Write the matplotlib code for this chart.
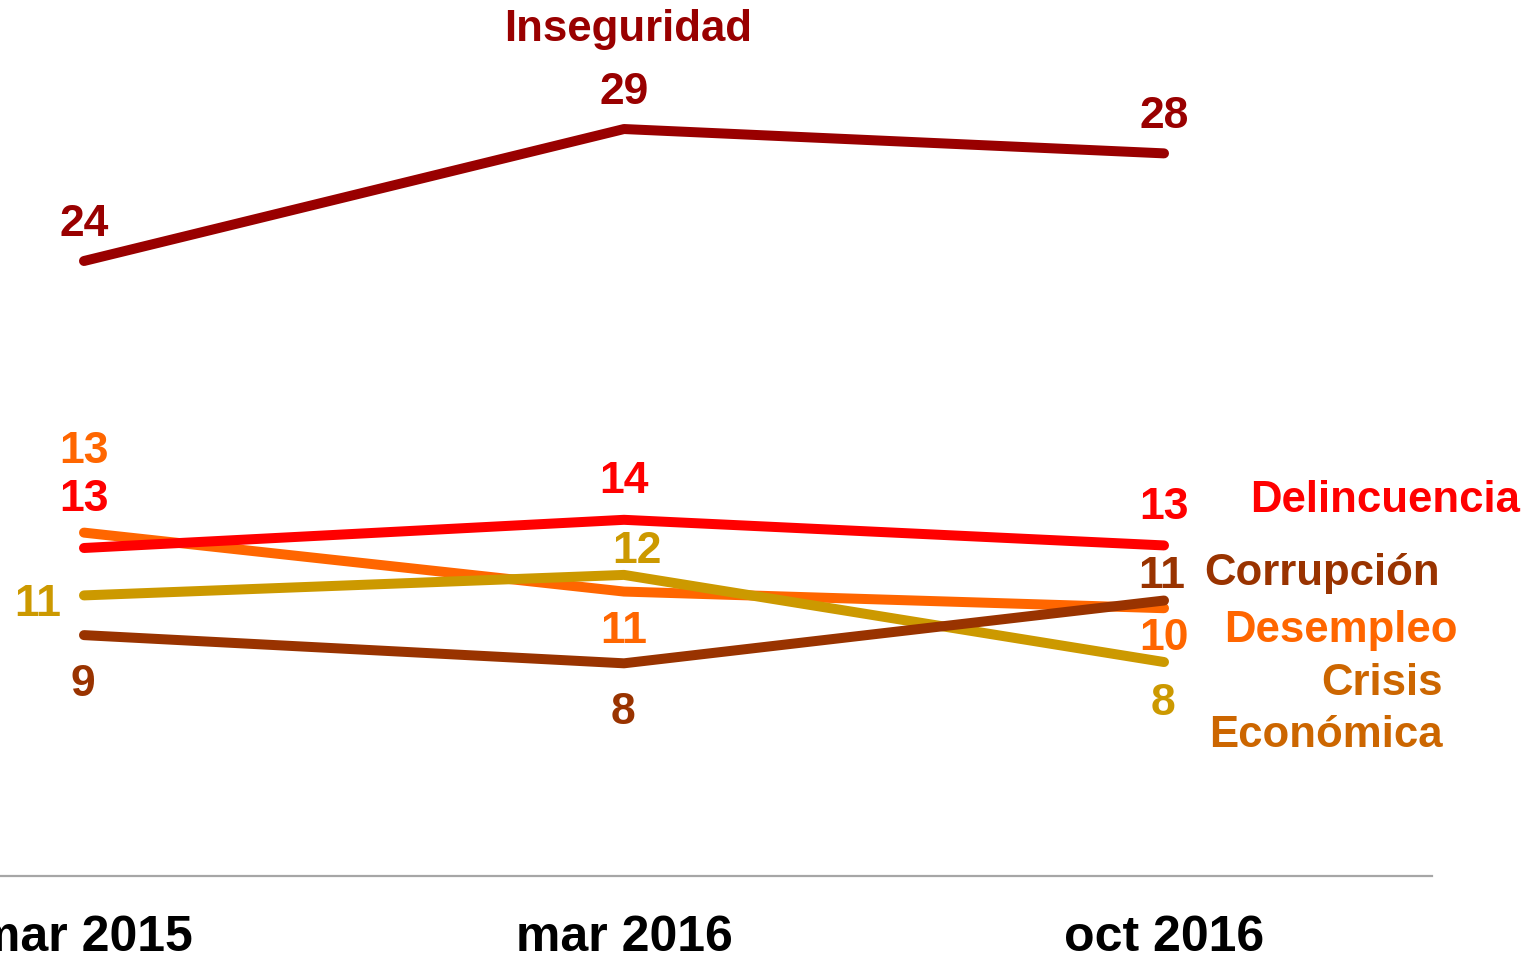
import matplotlib.pyplot as plt

plt.rcParams["font.family"] = ["Liberation Sans", "DejaVu Sans"]
plt.rcParams["font.weight"] = "bold"

# survey waves
periods = ["mar 2015", "mar 2016", "oct 2016"]

# share of mentions (%)
desempleo = [13.4, 11.1, 10.45]
crisis = [10.95, 11.75, 8.35]
corrupcion = [9.4, 8.3, 10.75]
delincuencia = [12.8, 13.9, 12.9]
inseguridad = [24.0, 29.15, 28.2]

# drawing order: bottom to top
series = [
    ("Desempleo", desempleo, "#ff6600"),
    ("Crisis Económica", crisis, "#cc9900"),
    ("Corrupción", corrupcion, "#993300"),
    ("Delincuencia", delincuencia, "#ff0000"),
    ("Inseguridad", inseguridad, "#990000"),
]

# value label offsets in pixels (dx, dy to baseline)
label_offsets = {
    "Desempleo": [(0, 70), (0, -51), (0, -42)],
    "Crisis Económica": [(-46, -21), (13, 12), (-1, -53)],
    "Corrupción": [(-1, -61), (-1, -61), (-2, 13)],
    "Delincuencia": [(0, 37), (0, 27), (0, 26)],
    "Inseguridad": [(0, 25), (0, 25), (0, 25)],
}

W, H = 1528, 955
fig = plt.figure(figsize=(W / 100, H / 100), dpi=100)
ax = fig.add_axes([0, 0, 1, 1])
ax.axis("off")

# 540 px between waves, first wave at x=84 px; 25.625 px per point, zero at y=876 px
px_x, px_y = 540, 25.625
ax.set_xlim(-84 / px_x, (W - 84) / px_x)
ax.set_ylim(-(H - 876) / px_y, 876 / px_y)

x = list(range(len(periods)))

ax.axhline(0, xmin=0, xmax=1432 / W, color="#a6a6a6", linewidth=1.6)

for name, values, color in series:
    ax.plot(x, values, color=color, linewidth=7.2, solid_capstyle="round", solid_joinstyle="round")
    for i, v in enumerate(values):
        dx, dy = label_offsets[name][i]
        ax.annotate(f"{v:.0f}", xy=(i, v), xytext=(dx, dy), textcoords="offset pixels",
                    ha="center", va="baseline", fontsize=32, fontweight="bold", color=color)

for i, p in enumerate(periods):
    ax.annotate(p, xy=(i, 0), xytext=(0, -75), textcoords="offset pixels",
                ha="center", va="baseline", fontsize=36, fontweight="bold", color="black")

# series names
name_style = dict(xycoords="figure pixels", va="baseline", fontsize=31.5, fontweight="bold")
ax.annotate("Inseguridad", xy=(628, H - 41), ha="center", color="#990000", **name_style)
ax.annotate("Delincuencia", xy=(1250, H - 512), ha="left", color="#ff0000", **name_style)
ax.annotate("Corrupción", xy=(1204, H - 585), ha="left", color="#993300", **name_style)
ax.annotate("Desempleo", xy=(1224, H - 642), ha="left", color="#ff6600", **name_style)
ax.annotate("Crisis", xy=(1443, H - 695), ha="right", color="#cc6600", **name_style)
ax.annotate("Económica", xy=(1443, H - 747), ha="right", color="#cc6600", **name_style)

fig.savefig("out.png", dpi=100)
plt.close(fig)
